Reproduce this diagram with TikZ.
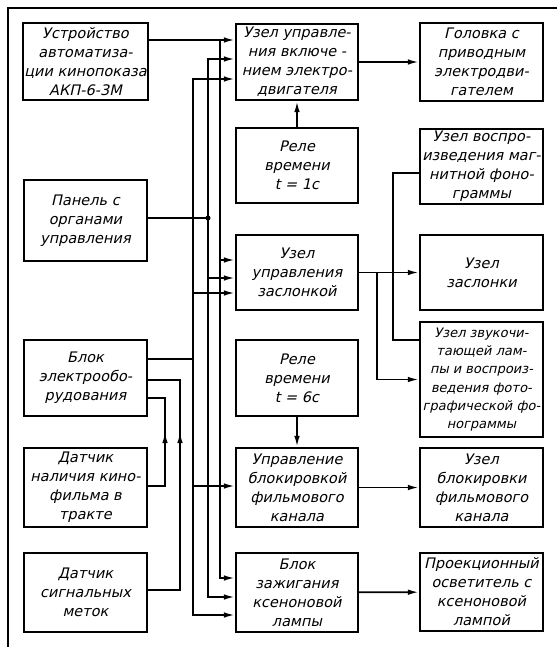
\documentclass[tikz,border=0pt]{standalone}
\usepackage{fontspec}
\newfontfamily\gostfont{DejaVu Sans}[FakeSlant=0.22]
\usetikzlibrary{arrows.meta}
\begin{document}
\begin{tikzpicture}[
    x=1pt, y=-1pt,
    line width=1.8pt,
    box/.style={draw, line width=2.1pt, minimum width=123, minimum height=77,
      inner sep=1pt, align=center, font=\fontsize{14.5}{19}\selectfont\gostfont},
    arr/.style={-{Latex[length=11pt,width=5.5pt]}},
    dot/.style={circle, fill=black, inner sep=1.8pt}
  ]
  \useasboundingbox (0,0) rectangle (557,647);
  \draw (557,8) -- (8,8) -- (8,647);

  % left column
  \node[box] (akp) at (85.5,61.5) {Устройство\\автоматиза-\\ции кинопоказа\\АКП-6-3М};
  \node[box, minimum height=81] (pan) at (85.5,220.5) {Панель с\\органами\\управления};
  \node[box, minimum height=76] (blk) at (85.5,378) {Блок\\электрообо-\\рудования};
  \node[box, minimum height=79] (dkf) at (85.5,487.5) {Датчик\\наличия кино-\\фильма в\\тракте};
  \node[box, minimum height=79] (dsm) at (85.5,592.5) {Датчик\\сигнальных\\меток};

  % middle column
  \node[box, minimum width=122, minimum height=76] (uvd) at (297,62) {Узел управле-\\ния включе -\\нием электро-\\двигателя};
  \node[box, minimum width=122, minimum height=75] (rv1) at (297,165.5) {Реле\\времени\\t = 1с};
  \node[box, minimum width=122, minimum height=75] (uuz) at (297,272.5) {Узел\\управления\\заслонкой};
  \node[box, minimum width=122, minimum height=76] (rv6) at (297,378) {Реле\\времени\\t = 6с};
  \node[box, minimum width=122, minimum height=79] (ubf) at (297,487.5) {Управление\\блокировкой\\фильмового\\канала};
  \node[box, minimum width=122, minimum height=79] (bzl) at (297,592.5) {Блок\\зажигания\\ксеноновой\\лампы};

  % right column
  \node[box, minimum height=78] (gol) at (481.5,62) {Головка с\\приводным\\электродви-\\гателем};
  \node[box, minimum height=75] (vmf) at (481.5,166.5) {Узел воспро-\\изведения маг-\\нитной фоно-\\граммы};
  \node[box, minimum height=75] (zsl) at (481.5,272.5) {Узел\\заслонки};
  \node[box, minimum height=115, font=\fontsize{13}{18.3}\selectfont\gostfont] (zvl) at (481.5,379.5)
    {Узел звукочи-\\тающей лам-\\пы и воспроиз-\\ведения фото-\\графической фо-\\нограммы};
  \node[box, minimum height=79] (ubk) at (481.5,487.5) {Узел\\блокировки\\фильмового\\канала};
  \node[box, minimum height=78] (pro) at (481.5,592) {Проекционный\\осветитель с\\ксеноновой\\лампой};

  % bus points
  \coordinate (t1) at (220,40);
  \coordinate (m1) at (220,260);
  \coordinate (e1) at (220,578);
  \coordinate (t2) at (208,59);
  \coordinate (p2) at (208,218);
  \coordinate (m2) at (208,278);
  \coordinate (e2) at (208,597);
  \coordinate (t3) at (193,79);
  \coordinate (m3) at (193,293);
  \coordinate (s3) at (193,359);
  \coordinate (u3) at (193,486);
  \coordinate (e3) at (193,615);
  \coordinate (r1) at (165,398);
  \coordinate (a1) at (165,432);
  \coordinate (r2) at (180,380);
  \coordinate (a2) at (180,432);
  \coordinate (v1) at (393,173);
  \coordinate (v2) at (393,340);
  \coordinate (br) at (377,272.5);

  \draw[arr] (akp.east |- t1) -- (uvd.west |- t1);
  \draw[arr] (t1) -- (e1) -- (bzl.west |- e1);
  \draw[arr] (m1) -- (uuz.west |- m1);

  \draw (pan.east |- p2) -- (p2);
  \node[dot] (j2) at (p2) {};
  \draw[arr] (p2) -- (t2) -- (uvd.west |- t2);
  \draw[arr] (p2) -- (e2) -- (bzl.west |- e2);
  \draw[arr] (m2) -- (uuz.west |- m2);

  \draw (blk.east |- s3) -- (s3);
  \draw[arr] (s3) -- (t3) -- (uvd.west |- t3);
  \draw[arr] (s3) -- (e3) -- (bzl.west |- e3);
  \draw[arr] (m3) -- (uuz.west |- m3);
  \draw[arr] (u3) -- (ubf.west |- u3);

  \draw (blk.east |- r1) -- (r1) -- (r1 |- u3) -- (dkf.east |- u3);
  \draw[arr] (r1 |- u3) -- (a1);
  \draw (blk.east |- r2) -- (r2) -- (r2 |- 0,590) -- (dsm.east |- 0,590);
  \draw[arr] (r2 |- 0,590) -- (a2);

  \draw[arr] (rv1) -- (uvd);
  \draw[arr] (rv6) -- (ubf);

  \draw[arr] (uvd) -- (gol);
  \draw[arr] (uuz) -- (zsl);
  \draw[arr] (br) |- (zvl.west);
  \draw (vmf.west |- v1) -- (v1) -- (v2) -- (zvl.west |- v2);
  \draw[arr] (ubf) -- (ubk);
  \draw[arr] (bzl) -- (pro);
\end{tikzpicture}
\end{document}
